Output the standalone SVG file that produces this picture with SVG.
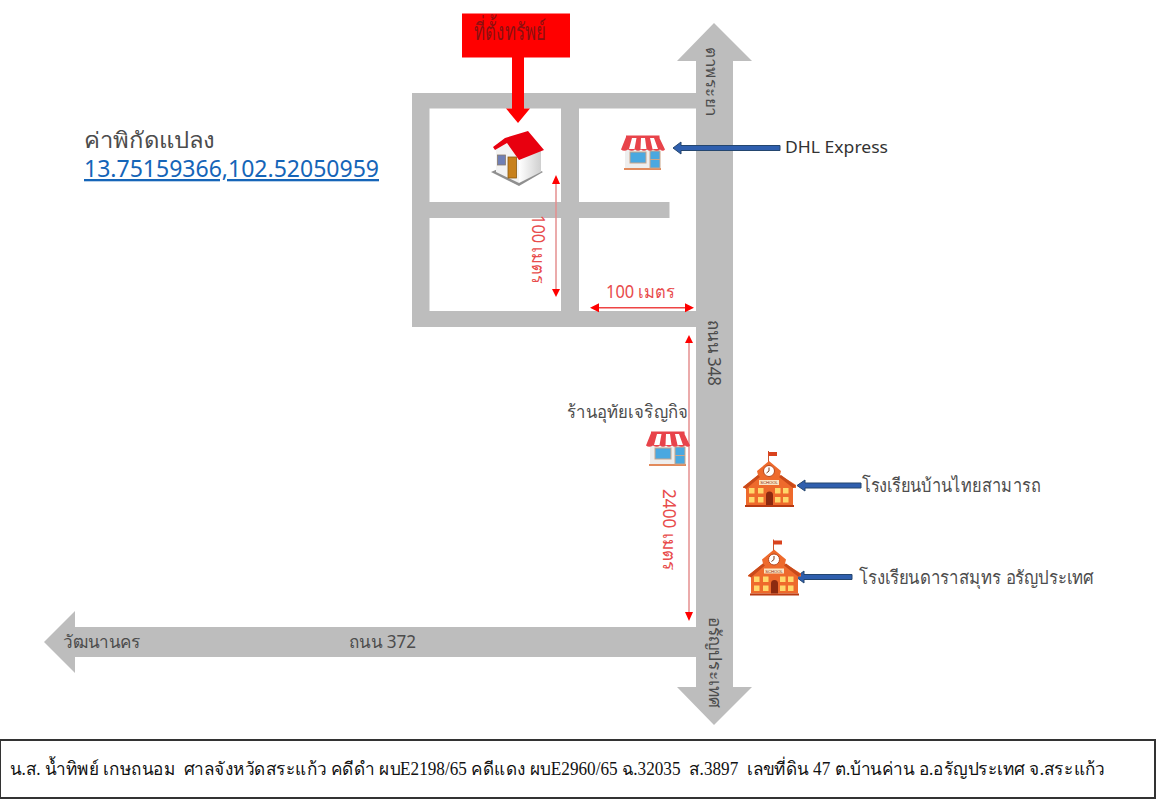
<svg xmlns="http://www.w3.org/2000/svg" width="1156" height="800" viewBox="0 0 1156 800">
<style>
.road{fill:#bdbdbd}
.t{font-family:"Noto Sans","Open Sans","DejaVu Sans",sans-serif;fill:#4c4c4c;font-weight:400}
.red{fill:#e84c4c}
.s{font-family:"Liberation Serif","Noto Serif","DejaVu Serif",serif;fill:#111;white-space:pre}
.rl{stroke:#e58f8f;stroke-width:1.5;fill:none}
.rh{fill:#ff0000}
.bs{fill:#2f5fae;stroke:#24466f;stroke-width:1}
</style>
<defs>
<linearGradient id="wall" x1="0" x2="1" y1="0" y2="0"><stop offset="0" stop-color="#fff"/><stop offset="1" stop-color="#cfcfcf"/></linearGradient>
<g id="shop">
<rect x="5" y="14" width="35" height="21" fill="#eeeeee"/>
<rect x="4" y="34" width="37" height="2" fill="#e28a5c"/>
<rect x="10" y="18" width="16" height="11" fill="#4aa8e0" stroke="#c9a58a"/>
<rect x="30" y="17" width="10" height="17" fill="#4aa8e0" stroke="#c9a58a"/>
<path d="M30 25.500H40" stroke="#c9a58a"/>
<path d="M6 3H39L45 15.500Q43 18 40 15.500Q37 18 33 15.500Q30 18 27 15.500Q24 18 21 15.500Q18 18 15 15.500Q12 18 8 15.500Q4 18 1 15.500Z" fill="#e8434a"/>
<path d="M12 4L9 15H14.500L16.500 4ZM21 4L20.500 15H26.500L25 4ZM30 4L32.500 15H38L34 4Z" fill="#fff"/>
<rect x="6" y="1.500" width="33.500" height="2.500" fill="#e8434a"/>
</g>
<g id="school">
<rect x="25" y="1" width="1" height="12" fill="#c9542a"/>
<rect x="25" y="2" width="9" height="4" fill="#d9431e"/>
<path d="M26 11L38 21L37 25L53 35V38H50V55H3V38H0V37L15 25L14 21Z" fill="#ee6a2c"/>
<path d="M0 37L15 25L17 27L3 39ZM53 36L38 25L36 27L50 38Z" fill="#c94a1a"/>
<circle cx="26" cy="21" r="5.500" fill="#fff" stroke="#b8461b"/>
<path d="M26 17.500V21L23.500 23" fill="none" stroke="#7a3a1a"/>
<rect x="16" y="30" width="20" height="5" fill="#fbe3c0"/>
<text x="26" y="34" font-size="4.200" text-anchor="middle" font-family="Liberation Sans,sans-serif" fill="#8a2e10">SCHOOL</text>
<path d="M6 38h5.500v5.500h-5.500zM15 38h5.500v5.500h-5.500zM6 47h5.500v5.500h-5.500zM15 47h5.500v5.500h-5.500zM32 38h5.500v5.500h-5.500zM40 38h5.500v5.500h-5.500zM32 47h5.500v5.500h-5.500zM40 47h5.500v5.500h-5.500z" fill="#ffd76a"/>
<path d="M23 55V45a3.500 3.500 0 0 1 7 0V55Z" fill="#8c2a10"/>
<rect x="2" y="55" width="49" height="2" fill="#b83a12"/>
</g>
</defs>
<rect width="1156" height="800" fill="#fff"/>
<g id="roads">
<rect class="road" x="412" y="93" width="284" height="15.500"/>
<rect class="road" x="412" y="93" width="17.500" height="234"/>
<rect class="road" x="561" y="93" width="18" height="234"/>
<rect class="road" x="412" y="202" width="257.500" height="16"/>
<rect class="road" x="412" y="311" width="284" height="16"/>
<path id="road-348" class="road" d="M714 23L752 61H733V687H752L714 725L677 687H696V61H677Z"/>
<path id="road-372" class="road" d="M44 642L75 611V627H696V657H75V673Z"/>
</g>
<g id="connectors">
<path class="rh" d="M512 57H524V108.500H530L518 123L506 108.500H512Z"/>
<path class="rl" d="M556 184V289"/>
<path class="rh" d="M556 175L560 184H552ZM556 297L552 289H560Z"/>
<path class="rl" style="stroke:#ee4444" d="M598 307.700H686"/>
<path class="rh" d="M590 307.700L599 303.200V312.200ZM694 307.700L685 303.200V312.200Z"/>
<path class="rl" d="M689 343V612"/>
<path class="rh" d="M689 335L693 343H685ZM689 621L685 612H693Z"/>
<path class="bs" d="M673 148L681 142V145.500H780V150.500H681V154Z"/>
<path class="bs" d="M797 485.500L805 480V483H861V488H805V491Z"/>
<path class="bs" d="M796 577L804 571V574.500H852V579.500H804V583Z"/>
</g>
<g id="property-label">
<rect x="462" y="13.500" width="108" height="44" fill="#ff0000"/>
<text class="s" x="474" y="40" font-size="24" style="fill:#8a1010" textLength="72" lengthAdjust="spacingAndGlyphs">ที่ตั้งทรัพย์</text>
</g>
<g id="house">
<path d="M491 172L519 160L543 172L519 186Z" fill="#8f8f8f"/>
<path d="M519 158L541 149V172L519 183Z" fill="url(#wall)"/>
<path d="M496 149L507 141L519 158V183L496 172Z" fill="#f3f3f3"/>
<rect x="497.500" y="155" width="8" height="10" fill="#6f7fb5" stroke="#8a7a6a" stroke-width=".8"/>
<rect x="508" y="157" width="8.500" height="21" fill="#c8811c" stroke="#8a5a10" stroke-width=".8"/>
<path d="M493 147L505 138L528 131L544 150L519 160L507 143L495 150Z" fill="#e8000f"/>
</g>
<g id="shop-dhl"><use href="#shop" x="620" y="134"/></g>
<g id="shop-uthai"><use href="#shop" x="645" y="430"/></g>
<g id="school-1"><use href="#school" x="743" y="450"/></g>
<g id="school-2"><use href="#school" x="748" y="538.500"/></g>
<g id="labels">
<text class="t" x="84" y="148" font-size="22" textLength="131" lengthAdjust="spacingAndGlyphs">ค่าพิกัดแปลง</text>
<text class="t" x="84" y="177" font-size="23" style="fill:#1565b8" text-decoration="underline" textLength="295" lengthAdjust="spacingAndGlyphs">13.75159366,102.52050959</text>
<text class="t" x="785" y="153" font-size="17" style="fill:#333" textLength="103" lengthAdjust="spacingAndGlyphs">DHL Express</text>
<text class="t" font-size="16" transform="translate(706 47) rotate(90)" textLength="70" lengthAdjust="spacingAndGlyphs">ตาพระยา</text>
<text class="t" font-size="18" transform="translate(708 320) rotate(90)" textLength="66" lengthAdjust="spacingAndGlyphs">ถนน 348</text>
<text class="t" font-size="17" transform="translate(709 617) rotate(90)" textLength="91" lengthAdjust="spacingAndGlyphs">อรัญประเทศ</text>
<text class="t" x="63" y="648" font-size="18" textLength="78" lengthAdjust="spacingAndGlyphs">วัฒนานคร</text>
<text class="t" x="349" y="648" font-size="18" textLength="67" lengthAdjust="spacingAndGlyphs">ถนน 372</text>
<text class="t red" style="fill:#e84c4c" x="606" y="298" font-size="18" textLength="69" lengthAdjust="spacingAndGlyphs">100 เมตร</text>
<text class="t red" style="fill:#e84c4c" font-size="18" transform="translate(532 215) rotate(90)" textLength="69" lengthAdjust="spacingAndGlyphs">100 เมตร</text>
<text class="t red" style="fill:#e84c4c" font-size="18" transform="translate(663 489) rotate(90)" textLength="82" lengthAdjust="spacingAndGlyphs">2400 เมตร</text>
<text class="t" x="567" y="418" font-size="18" textLength="121" lengthAdjust="spacingAndGlyphs">ร้านอุทัยเจริญกิจ</text>
<text class="t" x="862" y="492" font-size="19" textLength="179" lengthAdjust="spacingAndGlyphs">โรงเรียนบ้านไทยสามารถ</text>
<text class="t" x="859" y="584" font-size="19" textLength="235" lengthAdjust="spacingAndGlyphs">โรงเรียนดาราสมุทร อรัญประเทศ</text>
</g>
<g id="caption">
<rect x="0" y="740" width="1155" height="58" fill="#fff" stroke="#333" stroke-width="2"/>
<text class="s" x="10" y="775" font-size="18" textLength="1095" lengthAdjust="spacingAndGlyphs">น.ส. น้ำทิพย์ เกษถนอม  ศาลจังหวัดสระแก้ว คดีดำ ผบE2198/65 คดีแดง ผบE2960/65 ฉ.32035  ส.3897  เลขที่ดิน 47 ต.บ้านค่าน อ.อรัญประเทศ จ.สระแก้ว</text>
</g>
</svg>
